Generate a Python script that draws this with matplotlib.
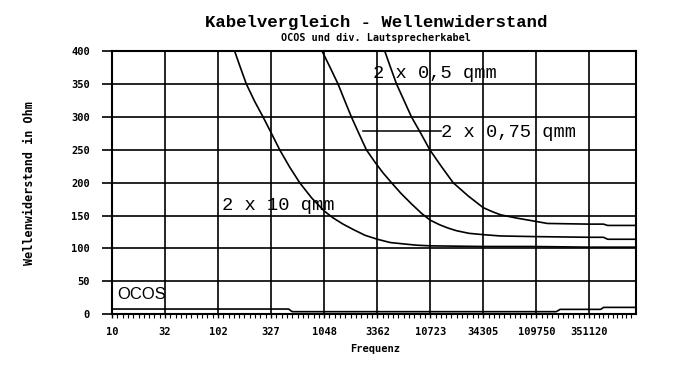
import matplotlib
matplotlib.use('Agg')
import matplotlib.pyplot as plt
import numpy as np
from matplotlib.ticker import FixedLocator, NullFormatter

# ---- data ----
tick_freqs = [10, 32, 102, 327, 1048, 3362, 10723, 34305, 109750, 351120]
tick_labels = ['10', '32', '102', '327', '1048', '3362', '10723', '34305', '109750', '351120']
y_ticks = [0, 50, 100, 150, 200, 250, 300, 350, 400]

f_10qmm = [147, 166, 190, 229, 274, 327, 395, 490, 612, 794, 1048, 1259, 1585, 1972,
           2570, 3365, 4467, 5916, 7943, 10715, 34277, 100000, 350750, 970000]
z_10qmm = [400, 376, 350, 323, 300, 276, 250, 224, 200, 177, 157, 147, 137, 129,
           120, 114, 109, 107, 105, 104, 103, 103, 102, 102]

f_075qmm = [1000, 1202, 1419, 1660, 1901, 2239, 2642, 3162, 3802, 4581, 5623, 7079,
            8913, 10715, 13183, 15849, 19055, 25119, 34277, 50119, 109650, 350750,
            478630, 524807, 970000]
z_075qmm = [400, 374, 350, 323, 300, 275, 250, 232, 215, 200, 184, 168,
            153, 143, 136, 131, 127, 123, 121, 119, 118, 117,
            117, 114, 114]

f_05qmm = [3954, 4467, 5117, 6026, 7096, 8710, 10617, 13490, 17701, 24547, 34277,
           41687, 50466, 72444, 109650, 139959, 350750, 478630, 524807, 970000]
z_05qmm = [400, 376, 350, 325, 300, 275, 250, 226, 200, 180, 162,
           156, 151, 146, 141, 138, 137, 137, 135, 135]

f_ocos = [10, 480, 520, 170000, 185000, 450000, 480000, 970000]
z_ocos = [8, 8, 4, 4, 7.5, 7.5, 10.5, 10.5]

title = 'Kabelvergleich - Wellenwiderstand'
subtitle = 'OCOS und div. Lautsprecherkabel'
xlabel = 'Frequenz'
ylabel = 'Wellenwiderstand in Ohm'

# ---- figure ----
fig = plt.figure(figsize=(7.0, 3.76), dpi=100)
ax = fig.add_axes([112/700, 1-314.3/376, (635.7-112)/700, (314.3-51)/376])

for f, z in [(f_10qmm, z_10qmm), (f_075qmm, z_075qmm), (f_05qmm, z_05qmm), (f_ocos, z_ocos)]:
    ax.plot(f, z, color='black', lw=1.2, clip_on=True, solid_joinstyle='round')

ax.set_xscale('log')
ax.set_xlim(10, 970000)
ax.set_ylim(0, 400)

ax.xaxis.set_major_locator(FixedLocator(tick_freqs))
ax.set_xticklabels(tick_labels)
minor = []
edges = tick_freqs + [970000]
for a, b in zip(edges[:-1], edges[1:]):
    minor.extend(list(np.geomspace(a, b, 11)[1:-1]))
ax.xaxis.set_minor_locator(FixedLocator(minor))
ax.xaxis.set_minor_formatter(NullFormatter())
ax.set_yticks(y_ticks)
ax.set_yticklabels([str(v) for v in y_ticks])

ax.grid(True, which='major', color='black', lw=1.2)
for s in ax.spines.values():
    s.set_linewidth(1.5)

ax.tick_params(axis='x', which='major', direction='out', length=3, width=1, pad=6)
ax.tick_params(axis='x', which='minor', direction='out', length=3, width=0.8)
ax.tick_params(axis='y', which='major', direction='out', length=7, width=1.2, pad=9)
for lab in ax.get_xticklabels() + ax.get_yticklabels():
    lab.set_fontfamily('DejaVu Sans Mono')
    lab.set_fontweight('bold')
    lab.set_fontsize(7.5)

fig.text(376/700, 1-22/376, title, ha='center', va='center',
         family='Liberation Mono', weight='bold', fontsize=12.5)
fig.text(376/700, 1-38/376, subtitle, ha='center', va='center',
         family='DejaVu Sans Mono', weight='bold', fontsize=7.3)
fig.text(375/700, 1-349/376, xlabel, ha='center', va='center',
         family='DejaVu Sans Mono', weight='bold', fontsize=7.5)
fig.text(30/700, 1-183/376, ylabel, ha='center', va='center', rotation=90,
         family='DejaVu Sans Mono', weight='bold', fontsize=8.5)

lbl = dict(family='Liberation Mono', fontsize=13.5, va='center', ha='left',
           transform=ax.transAxes, color='black')
ax.text(0.498, 0.916, '2 x 0,5 qmm', **lbl)
ax.text(0.628, 0.689, '2 x 0,75 qmm', **lbl)
ax.text(0.210, 0.415, '2 x 10 qmm', **lbl)
ax.text(0.0095, 0.077, 'OCOS', family='Liberation Sans', fontsize=12, va='center',
        ha='left', transform=ax.transAxes, color='black')
ax.plot([0.479, 0.628], [0.696, 0.696], color='black', lw=1.1, transform=ax.transAxes)

fig.savefig('out.png', dpi=100)
